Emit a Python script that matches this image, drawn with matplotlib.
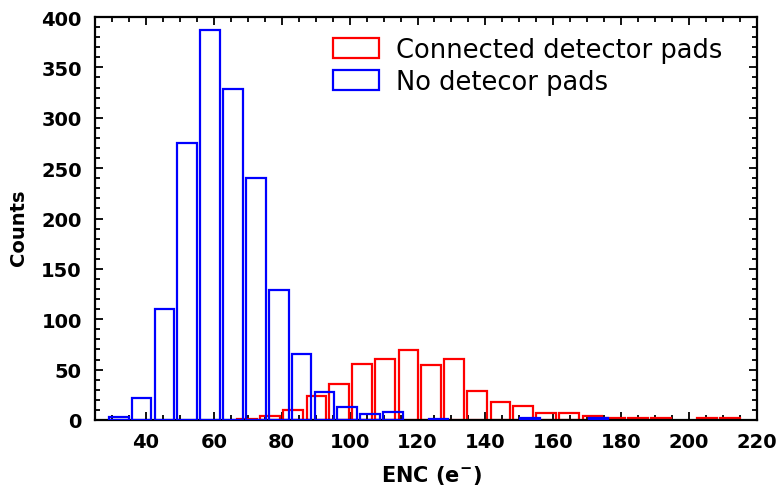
import matplotlib
matplotlib.use("Agg")
import matplotlib.pyplot as plt
from matplotlib.patches import Patch
from matplotlib.ticker import MultipleLocator

# ---- data ----
blue_centers = [32.0, 38.7, 45.5, 52.2, 58.9, 65.6, 72.4, 79.1, 85.8, 92.6,
                99.3, 106.0, 112.8, 126.2, 153.1, 173.3]
blue_counts = [3, 22, 110, 275, 387, 329, 240, 129, 66, 28,
               13, 6, 8, 1, 2, 2]

red_centers = [69.8, 76.6, 83.4, 90.2, 96.9, 103.7, 110.5, 117.3, 124.0, 130.8,
               137.6, 144.4, 151.1, 157.9, 164.7, 171.5, 178.2, 185.0, 191.8,
               205.3, 212.1]
red_counts = [1, 4, 10, 24, 36, 56, 61, 69, 55, 61,
              29, 18, 14, 7, 7, 4, 2, 2, 2,
              2, 2]

series_labels = ["Connected detector pads", "No detecor pads"]
x_label = r"ENC (e$^{\mathbf{-}}$)"
y_label = "Counts"

bar_width = 5.8

fig = plt.figure(figsize=(7.83, 4.89), dpi=100)
ax = fig.add_axes([95/783, 1-421/489, (757-95)/783, (421-18)/489])

ax.bar(red_centers, red_counts, width=bar_width, facecolor="none",
       edgecolor="#ff0000", linewidth=1.6, zorder=2)
ax.bar(blue_centers, blue_counts, width=bar_width, facecolor="none",
       edgecolor="#0000ff", linewidth=1.6, zorder=3)

ax.set_xlim(25, 220)
ax.set_ylim(0, 400)
ax.xaxis.set_major_locator(MultipleLocator(20))
ax.xaxis.set_minor_locator(MultipleLocator(5))
ax.yaxis.set_major_locator(MultipleLocator(50))
ax.yaxis.set_minor_locator(MultipleLocator(10))
ax.set_xticks(range(40, 221, 20))

ax.tick_params(which="both", direction="in", top=True, right=True,
               width=1.3, colors="black")
ax.tick_params(which="major", length=6)
ax.tick_params(which="minor", length=3.5)
ax.tick_params(axis="x", which="major", pad=9)
ax.tick_params(axis="y", which="major", pad=9.5)
for lab in ax.get_xticklabels() + ax.get_yticklabels():
    lab.set_fontfamily("DejaVu Sans")
    lab.set_fontweight("bold")
    lab.set_fontsize(14)

for sp in ax.spines.values():
    sp.set_linewidth(1.6)

ax.set_xlabel(x_label, fontsize=15, fontweight="bold", family="DejaVu Sans")
ax.xaxis.set_label_coords(0.508, -0.106)
ax.set_ylabel(y_label, fontsize=14, fontweight="bold", family="DejaVu Sans")
ax.yaxis.set_label_coords(-0.101, 0.48)

handles = [Patch(facecolor="none", edgecolor="#ff0000", linewidth=1.6),
           Patch(facecolor="none", edgecolor="#0000ff", linewidth=1.6)]
leg = ax.legend(handles, series_labels, loc="upper left",
                bbox_to_anchor=(333/783, 1-38/489), bbox_transform=fig.transFigure,
                frameon=False, fontsize=18.5, handlelength=1.8, handleheight=0.8,
                handletextpad=0.66, labelspacing=0.24, borderpad=0, borderaxespad=0)
for t in leg.get_texts():
    t.set_fontfamily("DejaVu Sans")

fig.savefig("out.png", dpi=100)
